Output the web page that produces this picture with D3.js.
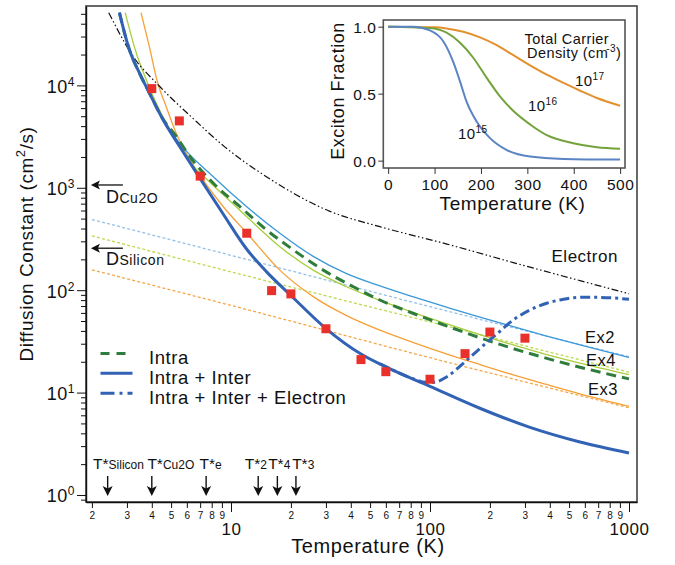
<!DOCTYPE html>
<html>
<head>
<meta charset="utf-8">
<title>Exciton diffusion constant vs temperature</title>
<script src="https://cdn.jsdelivr.net/npm/d3@7/dist/d3.min.js"></script>
<style>
  html, body { margin: 0; padding: 0; background: #fff; }
  svg { display: block; }
  text { font-family: "Liberation Sans", Arial, Helvetica, sans-serif; fill: #111; letter-spacing: 0.03em; }
</style>
</head>
<body>
<svg id="chart" width="675" height="565"></svg>
<script>
// ---------- measured diffusion constants (cm^2/s) ----------
const sampleT = [4, 5.5, 7, 12, 16, 20, 30, 45, 60, 100, 150, 200, 300];
const sampleD = [9300, 4500, 1300, 360, 99, 92, 42, 21, 16, 13.5, 24, 39, 34];

// ---------- model curves: temperature (K) and D (cm^2/s) ----------
const intraInterT = [2.75, 3.08, 3.46, 3.88, 4.54, 5.5, 7, 9.15, 12, 15.1, 20, 30, 45, 60, 100, 178, 318, 567, 1000];
const intraInterD = [51300, 22500, 13300, 8500, 4670, 2560, 1228, 552, 251, 151, 88.7, 42.2, 23.8, 17.8, 11.5, 7.03, 4.57, 3.29, 2.57];

const intraT = [2.75, 3.08, 3.46, 3.88, 4.54, 5.29, 6.22, 8.15, 11.1, 15.1, 20.6, 29.1, 41.2, 56, 82.6, 121.7, 178, 262, 386, 567, 1000];
const intraD = [51300, 22500, 13300, 8490, 4730, 3210, 2010, 1107, 653, 387, 247, 157, 108, 80.2, 59.2, 44.6, 34.3, 26.9, 21.6, 17.7, 13.6];

const withElectronT = [56, 65, 82.6, 95, 104, 121.7, 147, 178, 216, 262, 318, 386, 469, 567, 687, 834, 1000];
const withElectronD = [19.1, 16.6, 13.6, 12.6, 12.6, 14.3, 19.3, 26.9, 37.2, 51.2, 64.1, 74.5, 81.5, 85.1, 85.1, 83.9, 81.5];

const electronT = [2.43, 3.21, 4.36, 6.42, 9.3, 15, 31.4, 56, 121.7, 262, 567, 1000];
const electronD = [51300, 19400, 9860, 4790, 2510, 1290, 589, 417, 282, 186, 124, 92.3];

const ex2T = [2.75, 3.08, 3.46, 3.88, 4.54, 5.5, 8.15, 12, 17.6, 25.9, 38.1, 56, 82.6, 121.7, 178, 262, 386, 567, 1000];
const ex2D = [51300, 22500, 13300, 8490, 4730, 2750, 1282, 653, 360, 214, 145, 110, 85.9, 68.1, 54.6, 44.0, 35.6, 29.2, 22.0];

const ex4T = [2.94, 3.3, 3.85, 4.5, 5.3, 6.0, 7.49, 9.08, 12, 17.6, 25.9, 38.1, 56, 82.6, 121.7, 178, 262, 386, 567, 1000];
const ex4D = [51300, 22400, 10000, 5130, 2950, 1950, 1230, 865, 522, 266, 157, 108, 79.4, 60.5, 46.9, 36.9, 29.2, 23.5, 19.4, 15.0];

const ex3T = [3.53, 3.88, 4.28, 4.71, 5.29, 5.94, 6.93, 9.15, 12, 17.6, 25.9, 38.1, 56, 82.6, 121.7, 178, 262, 386, 567, 1000];
const ex3D = [51300, 24300, 10600, 6300, 3450, 2200, 1350, 653, 362, 157, 86.5, 56.5, 40.7, 30.8, 23.8, 18.8, 14.9, 12.0, 9.73, 7.33];

// power-law limits (dotted)
const limitT = [2, 10, 100, 1000];
const ex2LimitD = [490, 219, 69, 22.4];
const ex4LimitD = [339, 151, 49, 15.8];
const ex3LimitD = [158, 71, 21.9, 7.1];

// reference diffusion constants and characteristic temperatures
const refLabels = ["Cu2O", "Silicon"];
const refD = [1065, 257];
const tStarMain = ["T*", "T*", "T*", "T*", "T*", "T*"];
const tStarSub = ["Silicon", "Cu2O", "e", "2", "4", "3"];
const tStarT = [2.4, 4, 7.5, 13.7, 17.1, 21.2];
const tStarLabelShift = [-14.6, -4.4, -6.7, -13.4, -9.2, -3.8];

// axis ticks
const xMajorTicks = [10, 100, 1000];
const xMinorTicks = [2, 3, 4, 5, 6, 7, 8, 9, 20, 30, 40, 50, 60, 70, 80, 90, 200, 300, 400, 500, 600, 700, 800, 900];
const yMajorTicks = [1, 10, 100, 1000, 10000];
const yMajorExp = ["0", "1", "2", "3", "4"];

// ---------- inset: exciton fraction vs temperature ----------
const inset15T = [0, 54, 90, 119, 140, 155, 169, 191, 219, 255, 306, 378, 500];
const inset15F = [1.0, 1.0, 0.972, 0.89, 0.74, 0.59, 0.44, 0.29, 0.17, 0.08, 0.03, 0.013, 0.008];
const inset16T = [0, 90, 126, 155, 183, 212, 241, 270, 306, 342, 399, 450, 500];
const inset16F = [1.0, 0.99, 0.955, 0.88, 0.77, 0.62, 0.48, 0.37, 0.27, 0.19, 0.13, 0.10, 0.088];
const inset17T = [0, 100, 126, 162, 198, 234, 270, 306, 342, 378, 414, 450, 500];
const inset17F = [1.0, 0.995, 0.987, 0.962, 0.92, 0.862, 0.787, 0.712, 0.642, 0.58, 0.522, 0.468, 0.41];
const insetXTicks = [0, 100, 200, 300, 400, 500];
const insetYTicks = [0, 0.5, 1.0];
const insetExp = ["15", "16", "17"];

// ---------- layout ----------
const svg = d3.select("#chart");
const M = { left: 86, right: 637, top: 6, bottom: 502 };
const x = d3.scaleLog().domain([1.868, 1097]).range([M.left, M.right]);
const y = d3.scaleLog().domain([0.854, 59600]).range([M.bottom, M.top]);
const zip = (a, b) => a.map((v, i) => [v, b[i]]);
const line = d3.line().x(d => x(d[0])).y(d => y(d[1])).curve(d3.curveMonotoneX);

svg.append("rect").attr("width", 675).attr("height", 565).attr("fill", "#fff");
svg.append("defs").append("clipPath").attr("id", "plot-clip")
  .append("rect").attr("x", M.left).attr("y", M.top)
  .attr("width", M.right - M.left).attr("height", M.bottom - M.top);

const plot = svg.append("g").attr("clip-path", "url(#plot-clip)");

const curves = [
  { T: limitT, D: ex3LimitD, color: "#f5a64a", width: 1.3, dash: "3,2.2" },
  { T: limitT, D: ex4LimitD, color: "#bcd94f", width: 1.3, dash: "3,2.2" },
  { T: limitT, D: ex2LimitD, color: "#93c1ea", width: 1.3, dash: "3,2.2" },
  { T: ex3T, D: ex3D, color: "#f6a035", width: 1.3 },
  { T: ex4T, D: ex4D, color: "#a9cd3e", width: 1.3 },
  { T: ex2T, D: ex2D, color: "#3b98d8", width: 1.3 },
  { T: electronT, D: electronD, color: "#111", width: 1.2, dash: "7,2.5,1.5,2.5,1.5,2.5" },
  { T: intraT, D: intraD, color: "#2f7d3c", width: 3, dash: "10,6" },
  { T: intraInterT, D: intraInterD, color: "#3262b4", width: 3 },
  { T: withElectronT, D: withElectronD, color: "#3262b4", width: 3, dash: "10,4,3,4" }
];
curves.forEach(c => {
  plot.append("path")
    .datum(zip(c.T, c.D))
    .attr("d", line)
    .attr("fill", "none")
    .attr("stroke", c.color)
    .attr("stroke-width", c.width)
    .attr("stroke-dasharray", c.dash || null)
    .attr("stroke-linecap", "butt");
});

// measured points
const sq = 9;
plot.selectAll("rect.sample")
  .data(zip(sampleT, sampleD))
  .join("rect")
  .attr("class", "sample")
  .attr("x", d => x(d[0]) - sq / 2)
  .attr("y", d => y(d[1]) - sq / 2)
  .attr("width", sq).attr("height", sq)
  .attr("fill", "#e9302a");

// ---------- frame and axes ----------
svg.append("rect")
  .attr("x", M.left).attr("y", M.top)
  .attr("width", M.right - M.left).attr("height", M.bottom - M.top)
  .attr("fill", "none").attr("stroke", "#444").attr("stroke-width", 1.6);

const gxMinor = svg.append("g").attr("transform", `translate(0,${M.bottom})`)
  .call(d3.axisBottom(x).tickValues(xMinorTicks).tickSize(6).tickSizeOuter(0)
    .tickFormat(d => String(d).charAt(0)));
gxMinor.attr("font-size", 10).attr("color", "#111");
gxMinor.select(".domain").remove();
gxMinor.selectAll("text").attr("y", 16.5).attr("dy", null);

const gxMajor = svg.append("g").attr("transform", `translate(0,${M.bottom})`)
  .call(d3.axisBottom(x).tickValues(xMajorTicks).tickSize(10).tickSizeOuter(0)
    .tickFormat(d3.format("d")));
gxMajor.attr("font-size", 17).attr("color", "#111");
gxMajor.selectAll("text").attr("y", 33).attr("dy", null);
gxMajor.select(".domain").attr("stroke-width", 1.4);

const yMinorTicks = y.ticks().filter(v => !yMajorTicks.includes(v));
const gyMinor = svg.append("g").attr("transform", `translate(${M.left},0)`)
  .call(d3.axisLeft(y).tickValues(yMinorTicks).tickSize(5).tickSizeOuter(0).tickFormat(""));
gyMinor.attr("color", "#111");
gyMinor.select(".domain").remove();

const gyMajor = svg.append("g").attr("transform", `translate(${M.left},0)`)
  .call(d3.axisLeft(y).tickValues(yMajorTicks).tickSize(9).tickSizeOuter(0).tickFormat(""));
gyMajor.attr("color", "#111");
gyMajor.select(".domain").attr("stroke-width", 1.4);
gyMajor.selectAll(".tick").each(function (d, i) {
  const t = d3.select(this).append("text")
    .attr("x", -11).attr("y", 7).attr("text-anchor", "end")
    .attr("font-size", 18).attr("fill", "#111");
  t.append("tspan").text("10");
  t.append("tspan").attr("font-size", 12).attr("dy", -7).text(yMajorExp[i]);
});

// axis titles
svg.append("text")
  .attr("x", 368).attr("y", 553).attr("text-anchor", "middle")
  .attr("font-size", 20).text("Temperature (K)");

const yTitle = svg.append("text")
  .attr("transform", "translate(33,244) rotate(-90)")
  .attr("text-anchor", "middle").attr("font-size", 19);
yTitle.append("tspan").text("Diffusion Constant (cm");
yTitle.append("tspan").attr("font-size", 13).attr("dy", -8).text("2");
yTitle.append("tspan").attr("dy", 8).text("/s)");

// ---------- annotations ----------
const ann = svg.append("g");

// reference diffusion constants: arrows pointing to the y axis
refD.forEach((d, i) => {
  const yy = y(d);
  ann.append("line").attr("x1", x(2) + 4).attr("x2", x(2) + 31)
    .attr("y1", yy).attr("y2", yy).attr("stroke", "#111").attr("stroke-width", 1.3);
  ann.append("path")
    .attr("d", `M${x(2) - 1},${yy} l9,-4.5 l-2,4.5 l2,4.5 z`)
    .attr("fill", "#111");
  const t = ann.append("text").attr("x", x(2) + 14).attr("y", yy + (i === 0 ? 18 : 17))
    .attr("font-size", 18);
  t.append("tspan").text("D");
  t.append("tspan").attr("font-size", 14).text(refLabels[i]);
});

// characteristic temperatures: arrows pointing down to the x axis
tStarT.forEach((tv, i) => {
  const xx = x(tv);
  const tip = y(1) + 1;
  ann.append("line").attr("x1", xx).attr("x2", xx)
    .attr("y1", tip - 20).attr("y2", tip - 6)
    .attr("stroke", "#111").attr("stroke-width", 1.4);
  ann.append("path")
    .attr("d", `M${xx},${tip} l-5,-10 l5,2.5 l5,-2.5 z`)
    .attr("fill", "#111");
  const t = ann.append("text").attr("x", xx + tStarLabelShift[i]).attr("y", 468.5)
    .attr("font-size", 15.5).style("letter-spacing", "0");
  t.append("tspan").text(tStarMain[i]);
  t.append("tspan").attr("font-size", 12).text(tStarSub[i]);
});

// curve labels
const curveLabels = [
  { text: "Electron", x: 551.5, y: 261.5, size: 17 },
  { text: "Ex2", x: 585, y: 343, size: 16.5 },
  { text: "Ex4", x: 586, y: 366, size: 16.5 },
  { text: "Ex3", x: 588, y: 395, size: 16.5 }
];
curveLabels.forEach(l => ann.append("text").attr("x", l.x).attr("y", l.y)
  .attr("font-size", l.size).text(l.text));

// legend
const legendItems = [
  { label: "Intra", color: "#2f7d3c", dash: "9,7" },
  { label: "Intra + Inter", color: "#3262b4", dash: null },
  { label: "Intra + Inter + Electron", color: "#3262b4", dash: "14,5,3,5" }
];
const legend = svg.append("g");
legendItems.forEach((it, i) => {
  const base = 364 + i * 19.85;
  legend.append("line").attr("x1", 100.5).attr("x2", 132.5)
    .attr("y1", base - 10.5).attr("y2", base - 10.5)
    .attr("stroke", it.color).attr("stroke-width", 3)
    .attr("stroke-dasharray", it.dash);
  legend.append("text").attr("x", 149).attr("y", base).attr("font-size", 18.5).text(it.label);
});

// ---------- inset ----------
const I = { left: 383.3, right: 625, top: 20, bottom: 168 };
const xi = d3.scaleLinear().domain([-10.5, 510.5]).range([I.left, I.right]);
const yi = d3.scaleLinear().domain([-0.055, 1.05]).range([I.bottom, I.top]);
const inset = svg.append("g");
inset.append("rect").attr("x", I.left).attr("y", I.top)
  .attr("width", I.right - I.left).attr("height", I.bottom - I.top)
  .attr("fill", "#fff").attr("stroke", "#555").attr("stroke-width", 1.6);

const iline = d3.line().x(d => xi(d[0])).y(d => yi(d[1])).curve(d3.curveMonotoneX);
const insetSeries = [
  { T: inset17T, F: inset17F, color: "#e3902f" },
  { T: inset16T, F: inset16F, color: "#74a23c" },
  { T: inset15T, F: inset15F, color: "#5b84c3" }
];
insetSeries.forEach(s => inset.append("path").datum(zip(s.T, s.F)).attr("d", iline)
  .attr("fill", "none").attr("stroke", s.color).attr("stroke-width", 2));

const gxi = inset.append("g").attr("transform", `translate(0,${I.bottom})`)
  .call(d3.axisBottom(xi).tickValues(insetXTicks).tickSize(6).tickSizeOuter(0));
gxi.attr("font-size", 15.5).attr("color", "#333");
gxi.select(".domain").remove();
gxi.selectAll("text").attr("y", 22).attr("dy", null).attr("fill", "#111");

const gyi = inset.append("g").attr("transform", `translate(${I.left},0)`)
  .call(d3.axisLeft(yi).tickValues(insetYTicks).tickSize(5).tickSizeOuter(0).tickFormat(d3.format(".1f")));
gyi.attr("font-size", 15.5).attr("color", "#333");
gyi.select(".domain").remove();
gyi.selectAll("text").attr("x", -7).attr("dy", "0.36em").attr("fill", "#111");

inset.append("text").attr("x", 512.5).attr("y", 210).attr("text-anchor", "middle")
  .attr("font-size", 19).text("Temperature (K)");
inset.append("text").attr("transform", "translate(344,91) rotate(-90)")
  .attr("text-anchor", "middle").attr("font-size", 18).text("Exciton Fraction");

inset.append("text").attr("x", 524.5).attr("y", 43.5).attr("font-size", 14.5).text("Total Carrier");
const dens = inset.append("text").attr("x", 527).attr("y", 57.5).attr("font-size", 14.5);
dens.append("tspan").text("Density (cm");
dens.append("tspan").attr("font-size", 10).attr("dy", -6).attr("dx", -2).text("-3");
dens.append("tspan").attr("dy", 6).text(")");

const densityLabelPos = [{ x: 458, y: 139 }, { x: 528, y: 111 }, { x: 575, y: 86 }];
densityLabelPos.forEach((p, i) => {
  const t = inset.append("text").attr("x", p.x).attr("y", p.y).attr("font-size", 15);
  t.append("tspan").text("10");
  t.append("tspan").attr("font-size", 10).attr("dy", -6).text(insetExp[i]);
});
</script>
</body>
</html>
